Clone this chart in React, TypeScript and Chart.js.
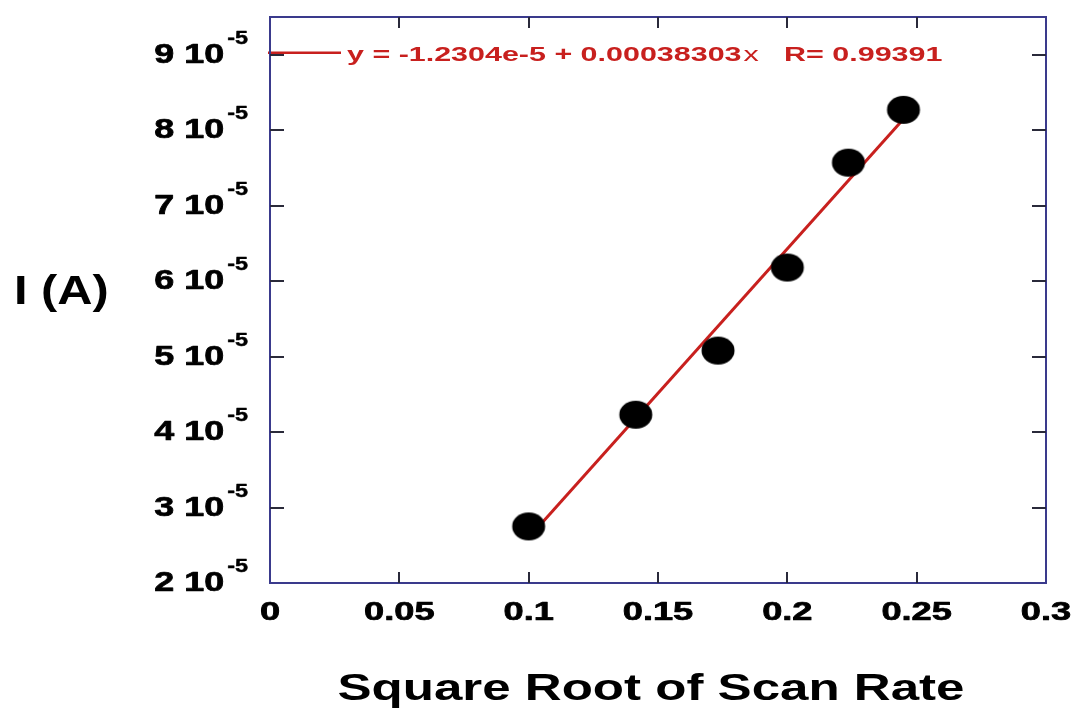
import { useEffect, useRef } from "react";
import { Chart, registerables } from "chart.js";

Chart.register(...registerables);

// Square root of scan rate vs. peak current
const scanRateRoot = [0.1, 0.1414, 0.1732, 0.2, 0.2236, 0.2449];
const peakCurrent = [2.75e-5, 4.23e-5, 5.08e-5, 6.18e-5, 7.57e-5, 8.27e-5];

// Linear fit reported on the plot
const fitIntercept = -1.2304e-5;
const fitSlope = 0.00038303;
const fitR = 0.99391;
const fitRange = [0.1, 0.2449];

// Axes
const xTicks = [0, 0.05, 0.1, 0.15, 0.2, 0.25, 0.3];
const xTickLabels = ["0", "0.05", "0.1", "0.15", "0.2", "0.25", "0.3"];
const yMantissas = [2, 3, 4, 5, 6, 7, 8, 9];
const yExponent = -5;
const xTitle = "Square Root of Scan Rate";
const yTitle = "I (A)";

const FONT = '"Liberation Sans", Arial, sans-serif';
const FRAME = "#3a3a8c";
const TICK = "#2a2a3a";
const RED = "#c8201e";

function drawStretched(
  ctx: CanvasRenderingContext2D,
  text: string,
  x: number,
  y: number,
  font: string,
  sx: number,
  align: CanvasTextAlign,
  color: string,
  heavy = 0
) {
  ctx.save();
  ctx.font = font;
  ctx.fillStyle = color;
  ctx.strokeStyle = color;
  ctx.textAlign = align;
  ctx.textBaseline = "alphabetic";
  ctx.translate(x, y);
  ctx.scale(sx, 1);
  ctx.fillText(text, 0, 0);
  if (heavy > 0) {
    ctx.lineWidth = heavy;
    ctx.lineJoin = "round";
    ctx.strokeText(text, 0, 0);
  }
  ctx.restore();
}

function measureStretched(ctx: CanvasRenderingContext2D, text: string, font: string, sx: number) {
  ctx.save();
  ctx.font = font;
  const w = ctx.measureText(text).width * sx;
  ctx.restore();
  return w;
}

function makeDot(): HTMLCanvasElement {
  const c = document.createElement("canvas");
  c.width = 36;
  c.height = 30;
  const g = c.getContext("2d")!;
  g.fillStyle = "#000";
  g.beginPath();
  g.ellipse(18, 15, 16.5, 14, 0, 0, Math.PI * 2);
  g.fill();
  return c;
}

const framePlugin = {
  id: "frameAndLabels",
  afterDraw(chart: any) {
    const ctx: CanvasRenderingContext2D = chart.ctx;
    const { left, right, top, bottom } = chart.chartArea;
    const xs = chart.scales.x;
    const ys = chart.scales.y;
    const SX = 1.45;

    // legend sample and fit equation
    const legendY = ys.getPixelForValue(9e-5) - 2;
    ctx.save();
    ctx.strokeStyle = RED;
    ctx.lineWidth = 2.5;
    ctx.beginPath();
    ctx.moveTo(left - 2, legendY);
    ctx.lineTo(left + 71, legendY);
    ctx.stroke();
    ctx.restore();
    const boldEq = `bold 21px ${FONT}`;
    const thinEq = `21px ${FONT}`;
    const partA = `y = ${fitIntercept.toExponential(4)} + ${fitSlope.toFixed(8)}`;
    const partB = "x";
    const partC = `   R= ${fitR}`;
    let ex = left + 77;
    const eqBase = legendY + 8;
    drawStretched(ctx, partA, ex, eqBase, boldEq, SX, "left", RED);
    ex += measureStretched(ctx, partA, boldEq, SX) + 2;
    drawStretched(ctx, partB, ex, eqBase, thinEq, SX, "left", RED);
    ex += measureStretched(ctx, partB, thinEq, SX);
    drawStretched(ctx, partC, ex, eqBase, boldEq, SX, "left", RED);

    // frame
    ctx.save();
    ctx.strokeStyle = FRAME;
    ctx.lineWidth = 2;
    ctx.strokeRect(left, top, right - left, bottom - top);

    // inward ticks
    ctx.strokeStyle = TICK;
    ctx.lineWidth = 2;
    ctx.beginPath();
    yMantissas.forEach((m) => {
      const py = Math.round(ys.getPixelForValue(m * Math.pow(10, yExponent)));
      if (py >= bottom - 1) return;
      ctx.moveTo(left, py);
      ctx.lineTo(left + 14, py);
      ctx.moveTo(right, py);
      ctx.lineTo(right - 14, py);
    });
    xTicks.forEach((v) => {
      const px = Math.round(xs.getPixelForValue(v));
      if (px <= left + 1 || px >= right - 1) return;
      ctx.moveTo(px, bottom);
      ctx.lineTo(px, bottom - 11);
      ctx.moveTo(px, top);
      ctx.lineTo(px, top + 11);
    });
    ctx.stroke();
    ctx.restore();

    // x tick labels
    xTicks.forEach((v, i) => {
      const px = xs.getPixelForValue(v);
      drawStretched(ctx, xTickLabels[i], px, bottom + 37, `bold 25px ${FONT}`, SX, "center", "#000", 0.7);
    });

    // y tick labels: "m 10" with superscript exponent
    const supFont = `bold 18px ${FONT}`;
    const mainFont = `bold 27px ${FONT}`;
    const sup = String(yExponent);
    const supW = measureStretched(ctx, sup, supFont, 1.3);
    yMantissas.forEach((m) => {
      const py = ys.getPixelForValue(m * Math.pow(10, yExponent));
      const rightEdge = left - 22;
      drawStretched(ctx, sup, rightEdge, py - 11, supFont, 1.3, "right", "#000", 0.4);
      drawStretched(ctx, `${m} 10`, rightEdge - supW - 3, py + 8, mainFont, 1.33, "right", "#000", 0.7);
    });

    // axis titles
    drawStretched(ctx, xTitle, (left + right) / 2 - 7, 700, `bold 37px ${FONT}`, 1.38, "center", "#000");
    drawStretched(ctx, yTitle, 14, 304, `bold 40px ${FONT}`, 1.22, "left", "#000");
  },
};

export default function App() {
  const canvasRef = useRef<HTMLCanvasElement | null>(null);

  useEffect(() => {
    document.body.style.margin = "0";
    const canvas = canvasRef.current;
    if (!canvas) return;
    const dot = makeDot();

    const chart = new Chart(canvas, {
      type: "scatter",
      data: {
        datasets: [
          {
            label: "data",
            data: scanRateRoot.map((x, i) => ({ x, y: peakCurrent[i] })),
            pointStyle: dot as any,
            pointRadius: 16,
            pointHoverRadius: 16,
            showLine: false,
          },
          {
            label: "fit",
            data: fitRange.map((x) => ({ x, y: fitIntercept + fitSlope * x })),
            showLine: true,
            borderColor: RED,
            borderWidth: 3,
            pointRadius: 0,
            pointHoverRadius: 0,
            fill: false,
          },
        ],
      },
      options: {
        animation: false,
        responsive: false,
        maintainAspectRatio: false,
        events: [],
        layout: { padding: { left: 270, right: 29, top: 16, bottom: 128 } },
        plugins: {
          legend: { display: false },
          tooltip: { enabled: false },
        },
        scales: {
          x: { type: "linear", min: 0, max: 0.3, display: false },
          y: { type: "linear", min: 2e-5, max: 9.5e-5, display: false },
        },
      },
      plugins: [framePlugin],
    });

    return () => chart.destroy();
  }, []);

  return (
    <div style={{ width: 1075, height: 711, background: "#fff" }}>
      <canvas ref={canvasRef} width={1075} height={711} style={{ display: "block" }} />
    </div>
  );
}
